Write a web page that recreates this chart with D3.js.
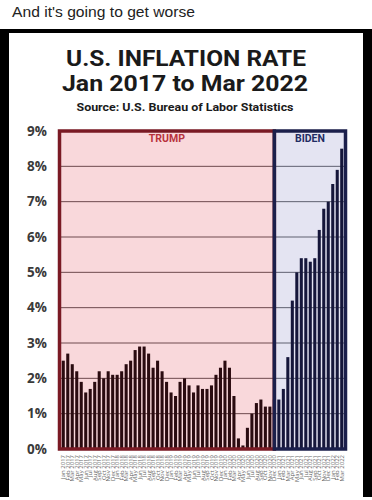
<!DOCTYPE html>
<html>
<head>
<meta charset="utf-8">
<script src="https://cdn.jsdelivr.net/npm/d3@7"></script>
<style>
body { margin: 0; background: #fff; }
svg { display: block; }
</style>
</head>
<body>
<script>
// CPI, 12 month % change, one array per year
var cpi2017 = [2.5, 2.7, 2.4, 2.2, 1.9, 1.6, 1.7, 1.9, 2.2, 2.0, 2.2, 2.1];
var cpi2018 = [2.1, 2.2, 2.4, 2.5, 2.8, 2.9, 2.9, 2.7, 2.3, 2.5, 2.2, 1.9];
var cpi2019 = [1.6, 1.5, 1.9, 2.0, 1.8, 1.6, 1.8, 1.7, 1.7, 1.8, 2.1, 2.3];
var cpi2020 = [2.5, 2.3, 1.5, 0.3, 0.1, 0.6, 1.0, 1.3, 1.4, 1.2, 1.2, 1.4];
var cpi2021 = [1.4, 1.7, 2.6, 4.2, 5.0, 5.4, 5.4, 5.3, 5.4, 6.2, 6.8, 7.0];
var cpi2022 = [7.5, 7.9, 8.5];

var months = d3.timeMonths(new Date(2017, 0, 1), new Date(2022, 3, 1));
var rates = [].concat(cpi2017, cpi2018, cpi2019, cpi2020, cpi2021, cpi2022);
var data = months.map(function(m, i) { return { month: m, rate: rates[i] }; });

var yTicks = [0, 1, 2, 3, 4, 5, 6, 7, 8, 9];
var lastTrumpMonth = new Date(2020, 11, 1);

var width = 372, height = 500;
var svg = d3.select('body').append('svg')
    .attr('width', width)
    .attr('height', height);

// caption above the picture
svg.append('text')
    .attr('x', 12).attr('y', 17)
    .attr('font-family', 'Liberation Sans, Arial, sans-serif')
    .attr('font-size', 15)
    .attr('textLength', 183).attr('lengthAdjust', 'spacingAndGlyphs')
    .attr('fill', '#222')
    .text("And it's going to get worse");

// black frame + white panel
svg.append('rect').attr('x', 0).attr('y', 29).attr('width', width).attr('height', 468).attr('fill', '#000');
svg.append('rect').attr('x', 9).attr('y', 33).attr('width', 354).attr('height', 467).attr('fill', '#fff');

// titles
var titleFont = 'Liberation Sans Narrow, Roboto, sans-serif';
svg.append('text')
    .attr('x', 186).attr('y', 66)
    .attr('text-anchor', 'middle')
    .attr('font-family', titleFont).attr('font-weight', 'bold').attr('font-size', 22.5)
    .attr('textLength', 240).attr('lengthAdjust', 'spacingAndGlyphs')
    .attr('fill', '#1a1a1a')
    .text('U.S. INFLATION RATE');
svg.append('text')
    .attr('x', 185).attr('y', 91)
    .attr('text-anchor', 'middle')
    .attr('font-family', titleFont).attr('font-weight', 'bold').attr('font-size', 22.5)
    .attr('textLength', 246).attr('lengthAdjust', 'spacingAndGlyphs')
    .attr('fill', '#1a1a1a')
    .text('Jan 2017 to Mar 2022');
svg.append('text')
    .attr('x', 185).attr('y', 111)
    .attr('text-anchor', 'middle')
    .attr('font-family', titleFont).attr('font-weight', 'bold').attr('font-size', 11)
    .attr('textLength', 217).attr('lengthAdjust', 'spacingAndGlyphs')
    .attr('fill', '#1a1a1a')
    .text('Source: U.S. Bureau of Labor Statistics');

// scales
var x = d3.scaleBand()
    .domain(months)
    .range([59.5, 345.5])
    .paddingInner(0.32)
    .paddingOuter(0.5);

var y = d3.scaleLinear()
    .domain([0, 9])
    .range([449, 131]);

var xDiv = x(lastTrumpMonth) + x.bandwidth() / 2;

var terms = [
    { name: 'TRUMP', x0: 59.5, x1: xDiv, fill: '#f9d8db', stroke: '#7a1a24', grid: '#6e4a4e', bar: '#2a0b10', label: '#b8323c' },
    { name: 'BIDEN', x0: xDiv, x1: 345.5, fill: '#e4e4f2', stroke: '#1b1f4b', grid: '#5e6070', bar: '#15163a', label: '#1f2c63' }
];

// term backgrounds
svg.selectAll('rect.term')
    .data(terms)
    .enter().append('rect')
    .attr('class', 'term')
    .attr('x', function(d) { return d.x0; })
    .attr('y', y(9))
    .attr('width', function(d) { return d.x1 - d.x0; })
    .attr('height', y(0) - y(9))
    .attr('fill', function(d) { return d.fill; });

// gridlines
terms.forEach(function(t) {
    svg.append('g').selectAll('line')
        .data(yTicks.slice(1, -1))
        .enter().append('line')
        .attr('x1', t.x0).attr('x2', t.x1)
        .attr('y1', function(d) { return y(d); })
        .attr('y2', function(d) { return y(d); })
        .attr('stroke', t.grid)
        .attr('stroke-width', 1);
});

// bars
svg.append('g').selectAll('rect')
    .data(data)
    .enter().append('rect')
    .attr('x', function(d) { return x(d.month); })
    .attr('y', function(d) { return y(d.rate); })
    .attr('width', x.bandwidth())
    .attr('height', function(d) { return y(0) - y(d.rate); })
    .attr('fill', function(d) { return d.month <= lastTrumpMonth ? terms[0].bar : terms[1].bar; });

// term outlines
svg.selectAll('rect.outline')
    .data(terms)
    .enter().append('rect')
    .attr('class', 'outline')
    .attr('x', function(d) { return d.x0; })
    .attr('y', y(9))
    .attr('width', function(d) { return d.x1 - d.x0; })
    .attr('height', y(0) - y(9))
    .attr('fill', 'none')
    .attr('stroke', function(d) { return d.stroke; })
    .attr('stroke-width', 3.5);

// term names
svg.selectAll('text.term')
    .data(terms)
    .enter().append('text')
    .attr('class', 'term')
    .attr('x', function(d) { return (d.x0 + d.x1) / 2; })
    .attr('y', 142)
    .attr('text-anchor', 'middle')
    .attr('font-family', titleFont)
    .attr('font-weight', 'bold')
    .attr('font-size', 10.5)
    .attr('fill', function(d) { return d.label; })
    .text(function(d) { return d.name; });

// y axis
var yAxis = svg.append('g')
    .attr('transform', 'translate(47,0)')
    .call(d3.axisLeft(y).tickValues(yTicks).tickSize(0).tickPadding(0)
        .tickFormat(function(d) { return d + '%'; }));
yAxis.select('.domain').remove();
yAxis.selectAll('text')
    .attr('font-family', 'Open Sans, sans-serif')
    .attr('font-weight', 'bold')
    .attr('font-size', 13.5)
    .attr('fill', '#3a3a3a');

// x axis, one rotated label per month
var xAxis = svg.append('g')
    .attr('transform', 'translate(0,' + (y(0) + 6) + ')')
    .call(d3.axisBottom(x).tickSize(0).tickPadding(0)
        .tickFormat(d3.timeFormat('%b %Y')));
xAxis.select('.domain').remove();
xAxis.selectAll('text')
    .attr('transform', 'rotate(-90)')
    .attr('text-anchor', 'end')
    .attr('x', 0)
    .attr('y', 0)
    .attr('dy', '0.35em')
    .attr('font-family', 'Open Sans, sans-serif')
    .attr('font-size', 6)
    .attr('fill', '#666');
</script>
</body>
</html>
